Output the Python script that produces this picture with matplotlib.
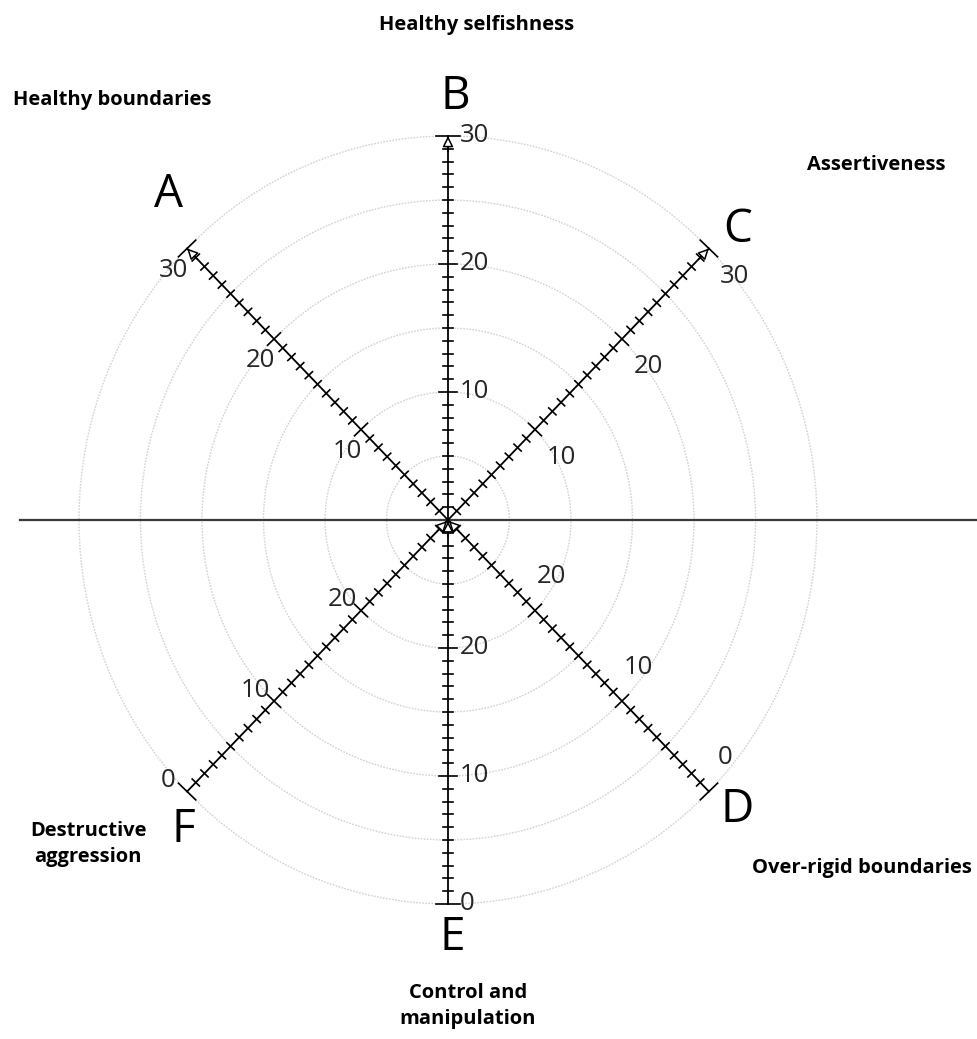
import numpy as np
import matplotlib
matplotlib.use('Agg')
import matplotlib.pyplot as plt
from matplotlib.patches import Ellipse

plt.rcParams['font.family'] = ['Open Sans', 'DejaVu Sans']

# data
axis_letters = ['A', 'B', 'C', 'D', 'E', 'F']
axis_angles = [135, 90, 45, -45, -90, -135]
axis_names = ['Healthy boundaries', 'Healthy selfishness', 'Assertiveness',
              'Over-rigid boundaries', 'Control and\nmanipulation', 'Destructive\naggression']
axis_outward = [True, True, True, False, False, False]   # value grows outward?
scale_max = 30
labelled_values = [0, 10, 20, 30]
ring_values = [5, 10, 15, 20, 25, 30]

# layout (pixels)
W, H = 978, 1039
cx, cy = 448, 520
sx, sy = 12.3, 12.8          # px per unit, horizontal / vertical
label_off = [(-14, 22), (12, 0), (26, 28), (16, -34), (12, 0), (-19, -11)]
letter_pos = [(168, 195), (455, 97), (738, 230), (737, 810), (452, 938), (183, 830)]
name_pos = [(112, 100), (477, 25), (876, 165), (862, 868), (468, 1006), (88, 844)]

fig = plt.figure(figsize=(W / 100, H / 100), dpi=100)
ax = fig.add_axes([0, 0, 1, 1])
ax.set_xlim(0, W)
ax.set_ylim(H, 0)
ax.axis('off')


def pt(ang, r):
    a = np.radians(ang)
    return cx + r * sx * np.cos(a), cy - r * sy * np.sin(a)


# rings
for rv in ring_values:
    ax.add_patch(Ellipse((cx, cy), 2 * rv * sx, 2 * rv * sy, fill=False, ec='#d2d2d2',
                         lw=1.0, ls=(0, (1.2, 1.0)), zorder=1))

# horizontal line
ax.plot([20, W], [cy, cy], color='#3a3a3a', lw=1.6, zorder=2)

for i, ang in enumerate(axis_angles):
    a = np.radians(ang)
    x0, y0 = pt(ang, 0)
    x1, y1 = pt(ang, scale_max)
    d = np.array([x1 - x0, y1 - y0])
    d = d / np.hypot(*d)
    p = np.array([-d[1], d[0]])                     # perpendicular
    ax.plot([x0, x1], [y0, y1], color='black', lw=1.3, zorder=3)

    # ticks every unit
    for u in range(1, scale_max + 1):
        value = u if axis_outward[i] else scale_max - u
        if u == scale_max:
            hl = 12
        elif value in labelled_values:
            hl = 9
        else:
            hl = 5
        tx, ty = pt(ang, u)
        ax.plot([tx - p[0] * hl, tx + p[0] * hl], [ty - p[1] * hl, ty + p[1] * hl],
                color='black', lw=1.2, zorder=3)

    # arrow head
    if axis_outward[i]:
        tip = np.array(pt(ang, scale_max))
        tail = np.array(pt(ang, scale_max - 1.2))
    else:
        tip = np.array(pt(ang, 0.1))
        tail = np.array(pt(ang, 1.3))
    ax.annotate('', xy=tip, xytext=tail,
                arrowprops=dict(arrowstyle='-|>', fc='white', ec='black', lw=1.1,
                                mutation_scale=16, shrinkA=0, shrinkB=0), zorder=4)

    # tick labels
    ox, oy = label_off[i]
    for v in labelled_values:
        r = v if axis_outward[i] else scale_max - v
        if r == 0:
            continue
        tx, ty = pt(ang, r)
        ha = 'left' if abs(np.cos(a)) < 0.1 else 'center'
        ax.text(tx + ox, ty + oy, str(v), fontsize=18.5, ha=ha, va='center',
                color='#262626', zorder=5)

    # letter and name
    lx, ly = letter_pos[i]
    ax.text(lx, ly, axis_letters[i], fontsize=33, ha='center', va='center', color='black')
    nx, ny = name_pos[i]
    ax.text(nx, ny, axis_names[i], fontsize=14.5, fontweight='bold', ha='center',
            va='center', color='black', linespacing=1.35)

fig.savefig('out.png', dpi=100, facecolor='white')
